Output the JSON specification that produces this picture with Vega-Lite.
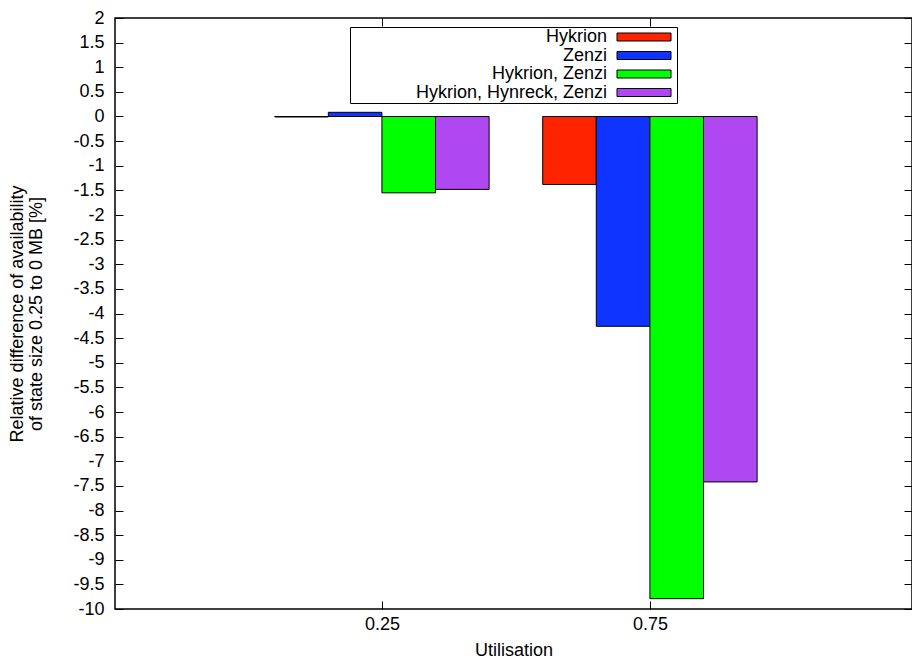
{
  "$schema": "https://vega.github.io/schema/vega-lite/v6.json",
  "width": 797,
  "height": 591,
  "autosize": {"type": "none"},
  "padding": {"left": 115, "top": 18, "right": 0, "bottom": 59},
  "config": {
    "font": "Liberation Sans",
    "view": {"stroke": "#000", "strokeWidth": 1.5},
    "axis": {"labelFontSize": 18, "titleFontSize": 18, "titleFontWeight": "normal", "labelColor": "#000", "titleColor": "#000", "tickColor": "#000", "domain": false, "grid": false}
  },
  "data": {
    "values": [
      {"util": 0.25, "series": "Hykrion", "value": -0.01},
      {"util": 0.25, "series": "Zenzi", "value": 0.085},
      {"util": 0.25, "series": "Hykrion, Zenzi", "value": -1.55},
      {"util": 0.25, "series": "Hykrion, Hynreck, Zenzi", "value": -1.48},
      {"util": 0.75, "series": "Hykrion", "value": -1.38},
      {"util": 0.75, "series": "Zenzi", "value": -4.26},
      {"util": 0.75, "series": "Hykrion, Zenzi", "value": -9.79},
      {"util": 0.75, "series": "Hykrion, Hynreck, Zenzi", "value": -7.42}
    ]
  },
  "transform": [
    {"calculate": "indexof(['Hykrion','Zenzi','Hykrion, Zenzi','Hykrion, Hynreck, Zenzi'], datum.series)", "as": "k"},
    {"calculate": "datum.util - 0.2 + 0.1 * datum.k", "as": "x0"},
    {"calculate": "datum.x0 + 0.1", "as": "x1"}
  ],
  "layer": [
    {
      "mark": {"type": "bar", "stroke": "#000", "strokeWidth": 1},
      "encoding": {
        "x": {
          "field": "x0", "type": "quantitative",
          "scale": {"domain": [-0.248, 1.239], "nice": false, "zero": false},
          "axis": {"orient": "bottom", "values": [0.25, 0.75], "labelExpr": "'' + datum.value", "tickSize": -8, "labelPadding": 14, "title": "Utilisation", "titlePadding": 8}
        },
        "x2": {"field": "x1"},
        "y": {
          "field": "value", "type": "quantitative",
          "scale": {"domain": [-10, 2], "nice": false},
          "axis": {"orient": "left", "values": [-10, -9.5, -9, -8.5, -8, -7.5, -7, -6.5, -6, -5.5, -5, -4.5, -4, -3.5, -3, -2.5, -2, -1.5, -1, -0.5, 0, 0.5, 1, 1.5, 2], "labelExpr": "'' + datum.value", "tickSize": -8, "labelPadding": 19, "title": ["Relative difference of availability", "of state size 0.25 to 0 MB [%]"], "titleLineHeight": 19, "titlePadding": 27}
        },
        "y2": {"datum": 0},
        "color": {
          "field": "series", "type": "nominal",
          "scale": {"domain": ["Hykrion", "Zenzi", "Hykrion, Zenzi", "Hykrion, Hynreck, Zenzi"], "range": ["#ff2400", "#1034ff", "#00ff00", "#b048f2"]},
          "legend": {
            "orient": "none", "legendX": 235, "legendY": 9, "title": null,
            "symbolType": "M64.25,-1H77.75V1H64.25ZM78.5,0", "symbolSize": 64,
            "symbolStrokeColor": "#000", "symbolStrokeWidth": 1, "symbolOpacity": 1,
            "labelAlign": "right", "labelOffset": 238, "labelFontSize": 18, "labelColor": "#000", "labelLimit": 400,
            "strokeColor": "#000", "padding": 1, "rowPadding": 0.5
          }
        }
      }
    },
    {
      "mark": {"type": "bar", "opacity": 0},
      "encoding": {
        "x": {"field": "x0", "type": "quantitative", "scale": {"domain": [-0.248, 1.239], "nice": false, "zero": false}, "axis": {"orient": "top", "values": [0.25, 0.75], "labels": false, "tickSize": -8, "title": null}},
        "x2": {"field": "x1"},
        "y": {"field": "value", "type": "quantitative", "scale": {"domain": [-10, 2], "nice": false}, "axis": {"orient": "right", "values": [-10, -9.5, -9, -8.5, -8, -7.5, -7, -6.5, -6, -5.5, -5, -4.5, -4, -3.5, -3, -2.5, -2, -1.5, -1, -0.5, 0, 0.5, 1, 1.5, 2], "labels": false, "tickSize": -8, "title": null}},
        "y2": {"datum": 0}
      }
    }
  ],
  "resolve": {"axis": {"x": "independent", "y": "independent"}}
}
